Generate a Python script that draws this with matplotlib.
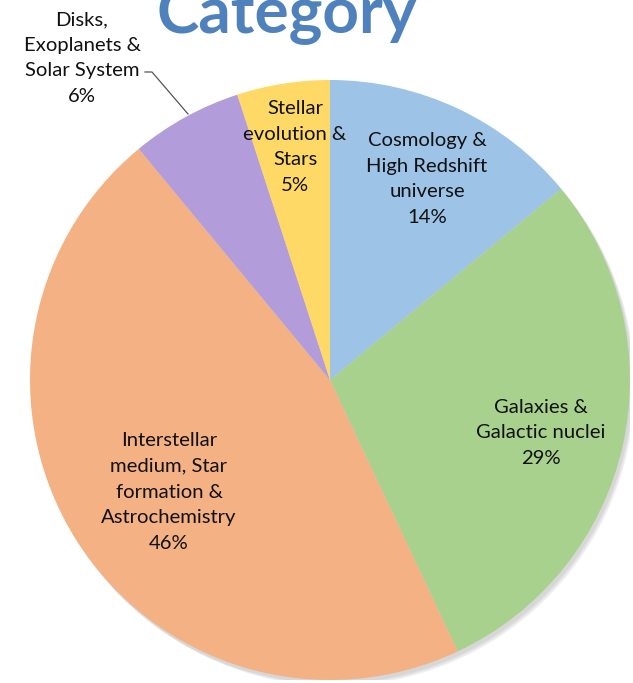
import matplotlib
matplotlib.use("Agg")
import matplotlib.pyplot as plt
from matplotlib.patches import Ellipse

categories = ["Cosmology &\nHigh Redshift\nuniverse", "Galaxies &\nGalactic nuclei",
              "Interstellar\nmedium, Star\nformation &\nAstrochemistry",
              "Disks,\nExoplanets &\nSolar System", "Stellar\nevolution &\nStars"]
values = [14, 29, 46, 6, 5]
colors = ["#9DC3E6", "#A9D18E", "#F4B183", "#B29DDA", "#FFD966"]

plt.rcParams['font.family'] = ['Lato', 'DejaVu Sans']

W, H = 633, 683
fig = plt.figure(figsize=(W / 100, H / 100), dpi=100)
cx, cy, R = 330, 380, 300
ax = fig.add_axes([(cx - R) / W, (H - cy - R) / H, 2 * R / W, 2 * R / H])

# soft shadow
for i, a in enumerate([0.05, 0.05, 0.06]):
    ax.add_patch(Ellipse((0.008 + 0.004 * i, -0.012 - 0.004 * i), 2.0, 2.0,
                         color='black', alpha=a, lw=0, zorder=0))

wedges, _ = ax.pie(values, colors=colors, startangle=90, counterclock=False,
                   radius=1.0, center=(0, 0), frame=True,
                   wedgeprops=dict(linewidth=0, zorder=1))
ax.set_xlim(-1, 1)
ax.set_ylim(-1, 1)
ax.axis('off')

def px(x, y):
    return (x - cx) / R, (cy - y) / R

label_px = [(427, 179), (541, 433), (169, 492), (82, 58), (295, 147)]
for cat, v, (x, y) in zip(categories, values, label_px):
    dx, dy = px(x, y)
    ax.text(dx, dy, f"{cat}\n{v}%", ha='center', va='center', fontsize=14.6,
            linespacing=1.62, color='#111111', clip_on=False, zorder=5)

# leader line for Disks label
x0, y0 = px(145, 72)
x1, y1 = px(152, 72)
x2, y2 = px(188, 114)
ax.plot([x0, x1, x2], [y0, y1, y2], color='#555555', lw=0.9, clip_on=False, zorder=5)

fig.text(287 / W, 1 - 33 / H, "Category", ha='center', va='baseline', fontsize=46,
         fontweight='bold', color='#4F81BD')

fig.savefig("out.png", dpi=100)
